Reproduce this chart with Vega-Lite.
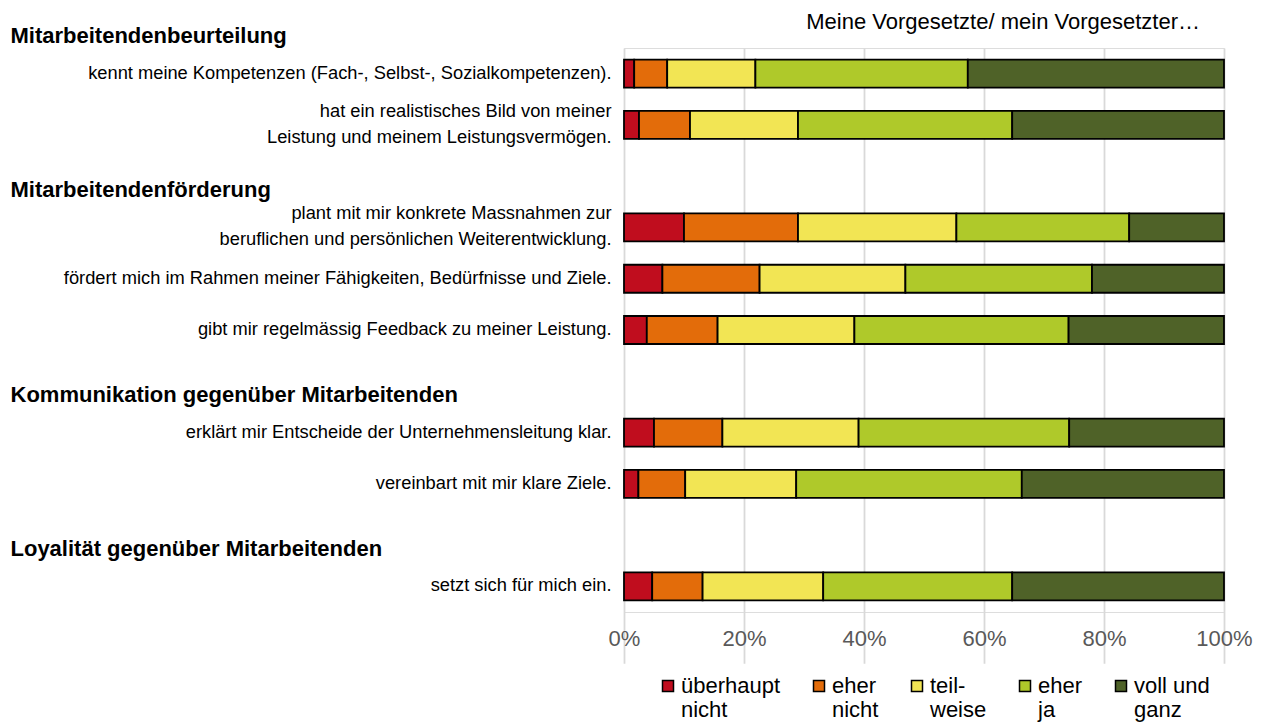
{
  "$schema": "https://vega.github.io/schema/vega-lite/v6.json",
  "autosize": {"type": "none"},
  "width": 600,
  "height": 564,
  "padding": {"left": 624, "right": 38, "top": 48, "bottom": 110},
  "background": "white",
  "title": {
    "text": "Meine Vorgesetzte/ mein Vorgesetzter…",
    "anchor": "end",
    "frame": "group",
    "dx": -24,
    "dy": 23,
    "offset": 14,
    "font": "Liberation Sans",
    "fontSize": 22,
    "fontWeight": "normal",
    "color": "#000000"
  },
  "datasets": {
    "answers": [
      {"item": "kennt meine Kompetenzen (Fach-, Selbst-, Sozialkompetenzen).", "level": 1, "answer": "überhaupt\nnicht", "share": 1.7},
      {"item": "kennt meine Kompetenzen (Fach-, Selbst-, Sozialkompetenzen).", "level": 2, "answer": "eher\nnicht", "share": 5.5},
      {"item": "kennt meine Kompetenzen (Fach-, Selbst-, Sozialkompetenzen).", "level": 3, "answer": "teil-\nweise", "share": 14.7},
      {"item": "kennt meine Kompetenzen (Fach-, Selbst-, Sozialkompetenzen).", "level": 4, "answer": "eher\nja", "share": 35.4},
      {"item": "kennt meine Kompetenzen (Fach-, Selbst-, Sozialkompetenzen).", "level": 5, "answer": "voll und\nganz", "share": 42.7},
      {"item": "hat ein realistisches Bild von meiner\nLeistung und meinem Leistungsvermögen.", "level": 1, "answer": "überhaupt\nnicht", "share": 2.5},
      {"item": "hat ein realistisches Bild von meiner\nLeistung und meinem Leistungsvermögen.", "level": 2, "answer": "eher\nnicht", "share": 8.5},
      {"item": "hat ein realistisches Bild von meiner\nLeistung und meinem Leistungsvermögen.", "level": 3, "answer": "teil-\nweise", "share": 18.0},
      {"item": "hat ein realistisches Bild von meiner\nLeistung und meinem Leistungsvermögen.", "level": 4, "answer": "eher\nja", "share": 35.7},
      {"item": "hat ein realistisches Bild von meiner\nLeistung und meinem Leistungsvermögen.", "level": 5, "answer": "voll und\nganz", "share": 35.3},
      {"item": "plant mit mir konkrete Massnahmen zur\nberuflichen und persönlichen Weiterentwicklung.", "level": 1, "answer": "überhaupt\nnicht", "share": 10.0},
      {"item": "plant mit mir konkrete Massnahmen zur\nberuflichen und persönlichen Weiterentwicklung.", "level": 2, "answer": "eher\nnicht", "share": 19.0},
      {"item": "plant mit mir konkrete Massnahmen zur\nberuflichen und persönlichen Weiterentwicklung.", "level": 3, "answer": "teil-\nweise", "share": 26.4},
      {"item": "plant mit mir konkrete Massnahmen zur\nberuflichen und persönlichen Weiterentwicklung.", "level": 4, "answer": "eher\nja", "share": 28.8},
      {"item": "plant mit mir konkrete Massnahmen zur\nberuflichen und persönlichen Weiterentwicklung.", "level": 5, "answer": "voll und\nganz", "share": 15.8},
      {"item": "fördert mich im Rahmen meiner Fähigkeiten, Bedürfnisse und Ziele.", "level": 1, "answer": "überhaupt\nnicht", "share": 6.4},
      {"item": "fördert mich im Rahmen meiner Fähigkeiten, Bedürfnisse und Ziele.", "level": 2, "answer": "eher\nnicht", "share": 16.2},
      {"item": "fördert mich im Rahmen meiner Fähigkeiten, Bedürfnisse und Ziele.", "level": 3, "answer": "teil-\nweise", "share": 24.3},
      {"item": "fördert mich im Rahmen meiner Fähigkeiten, Bedürfnisse und Ziele.", "level": 4, "answer": "eher\nja", "share": 31.1},
      {"item": "fördert mich im Rahmen meiner Fähigkeiten, Bedürfnisse und Ziele.", "level": 5, "answer": "voll und\nganz", "share": 22.0},
      {"item": "gibt mir regelmässig Feedback zu meiner Leistung.", "level": 1, "answer": "überhaupt\nnicht", "share": 3.8},
      {"item": "gibt mir regelmässig Feedback zu meiner Leistung.", "level": 2, "answer": "eher\nnicht", "share": 11.8},
      {"item": "gibt mir regelmässig Feedback zu meiner Leistung.", "level": 3, "answer": "teil-\nweise", "share": 22.8},
      {"item": "gibt mir regelmässig Feedback zu meiner Leistung.", "level": 4, "answer": "eher\nja", "share": 35.7},
      {"item": "gibt mir regelmässig Feedback zu meiner Leistung.", "level": 5, "answer": "voll und\nganz", "share": 25.9},
      {"item": "erklärt mir Entscheide der Unternehmensleitung klar.", "level": 1, "answer": "überhaupt\nnicht", "share": 5.0},
      {"item": "erklärt mir Entscheide der Unternehmensleitung klar.", "level": 2, "answer": "eher\nnicht", "share": 11.4},
      {"item": "erklärt mir Entscheide der Unternehmensleitung klar.", "level": 3, "answer": "teil-\nweise", "share": 22.7},
      {"item": "erklärt mir Entscheide der Unternehmensleitung klar.", "level": 4, "answer": "eher\nja", "share": 35.1},
      {"item": "erklärt mir Entscheide der Unternehmensleitung klar.", "level": 5, "answer": "voll und\nganz", "share": 25.8},
      {"item": "vereinbart mit mir klare Ziele.", "level": 1, "answer": "überhaupt\nnicht", "share": 2.4},
      {"item": "vereinbart mit mir klare Ziele.", "level": 2, "answer": "eher\nnicht", "share": 7.8},
      {"item": "vereinbart mit mir klare Ziele.", "level": 3, "answer": "teil-\nweise", "share": 18.5},
      {"item": "vereinbart mit mir klare Ziele.", "level": 4, "answer": "eher\nja", "share": 37.6},
      {"item": "vereinbart mit mir klare Ziele.", "level": 5, "answer": "voll und\nganz", "share": 33.7},
      {"item": "setzt sich für mich ein.", "level": 1, "answer": "überhaupt\nnicht", "share": 4.7},
      {"item": "setzt sich für mich ein.", "level": 2, "answer": "eher\nnicht", "share": 8.4},
      {"item": "setzt sich für mich ein.", "level": 3, "answer": "teil-\nweise", "share": 20.1},
      {"item": "setzt sich für mich ein.", "level": 4, "answer": "eher\nja", "share": 31.5},
      {"item": "setzt sich für mich ein.", "level": 5, "answer": "voll und\nganz", "share": 35.3}
    ]
  },
  "data": {"name": "answers"},
  "mark": {"type": "bar", "stroke": "#000000", "strokeWidth": 1.8},
  "encoding": {
    "y": {
      "field": "item",
      "type": "nominal",
      "scale": {
        "type": "band",
        "domain": [
          "Mitarbeitendenbeurteilung",
          "kennt meine Kompetenzen (Fach-, Selbst-, Sozialkompetenzen).",
          "hat ein realistisches Bild von meiner\nLeistung und meinem Leistungsvermögen.",
          "Mitarbeitendenförderung",
          "plant mit mir konkrete Massnahmen zur\nberuflichen und persönlichen Weiterentwicklung.",
          "fördert mich im Rahmen meiner Fähigkeiten, Bedürfnisse und Ziele.",
          "gibt mir regelmässig Feedback zu meiner Leistung.",
          "Kommunikation gegenüber Mitarbeitenden",
          "erklärt mir Entscheide der Unternehmensleitung klar.",
          "vereinbart mit mir klare Ziele.",
          "Loyalität gegenüber Mitarbeitenden",
          "setzt sich für mich ein."
        ],
        "range": [-51.27, 564],
        "paddingInner": 0.454,
        "paddingOuter": 0.227
      },
      "axis": {
        "title": null,
        "domain": false,
        "ticks": false,
        "grid": false,
        "labelLimit": 800,
        "labelFont": "Liberation Sans",
        "labelColor": "#000000",
        "labelBaseline": "middle",
        "labelLineHeight": 26,
        "labelExpr": "split(datum.label, '\\n')",
        "labelAlign": {"condition": {"test": "!indata('answers', 'item', datum.value)", "value": "left"}, "value": "right"},
        "labelPadding": {"condition": {"test": "!indata('answers', 'item', datum.value)", "value": 614}, "value": 13},
        "labelFontWeight": {"condition": {"test": "!indata('answers', 'item', datum.value)", "value": "bold"}, "value": "normal"},
        "labelFontSize": {"condition": {"test": "!indata('answers', 'item', datum.value)", "value": 22}, "value": 18.3},
        "labelOffset": {"condition": [
          {"test": "!indata('answers', 'item', datum.value)", "value": 14},
          {"test": "indexof(datum.value, '\\n') >= 0", "value": -13}
        ], "value": 0}
      }
    },
    "x": {
      "field": "share",
      "type": "quantitative",
      "stack": "normalize",
      "scale": {"domain": [0, 1]},
      "axis": {
        "title": null,
        "values": [0, 0.2, 0.4, 0.6, 0.8, 1],
        "format": ".0%",
        "domain": false,
        "ticks": false,
        "grid": true,
        "gridColor": "#d9d9d9",
        "gridWidth": 1.8,
        "labelFlush": false,
        "labelFont": "Liberation Sans",
        "labelFontSize": 22,
        "labelColor": "#595959",
        "labelPadding": 16
      }
    },
    "order": {"field": "level", "type": "quantitative"},
    "color": {
      "field": "answer",
      "type": "nominal",
      "sort": ["überhaupt\nnicht", "eher\nnicht", "teil-\nweise", "eher\nja", "voll und\nganz"],
      "scale": {
        "domain": ["überhaupt\nnicht", "eher\nnicht", "teil-\nweise", "eher\nja", "voll und\nganz"],
        "range": ["#C00D1E", "#E36C0A", "#F2E554", "#AFC92A", "#4F6228"]
      },
      "legend": {
        "title": null,
        "orient": "none",
        "legendX": 33,
        "legendY": 627,
        "direction": "horizontal",
        "columns": 5,
        "columnPadding": 27,
        "symbolType": "square",
        "symbolSize": 121,
        "symbolStrokeColor": "#000000",
        "symbolStrokeWidth": 1.5,
        "labelFont": "Liberation Sans",
        "labelFontSize": 22,
        "labelColor": "#000000",
        "labelLimit": 300,
        "labelOffset": 2,
        "labelBaseline": "middle",
        "labelLineHeight": 24,
        "labelExpr": "split(datum.label, '\\n')"
      }
    }
  }
}
